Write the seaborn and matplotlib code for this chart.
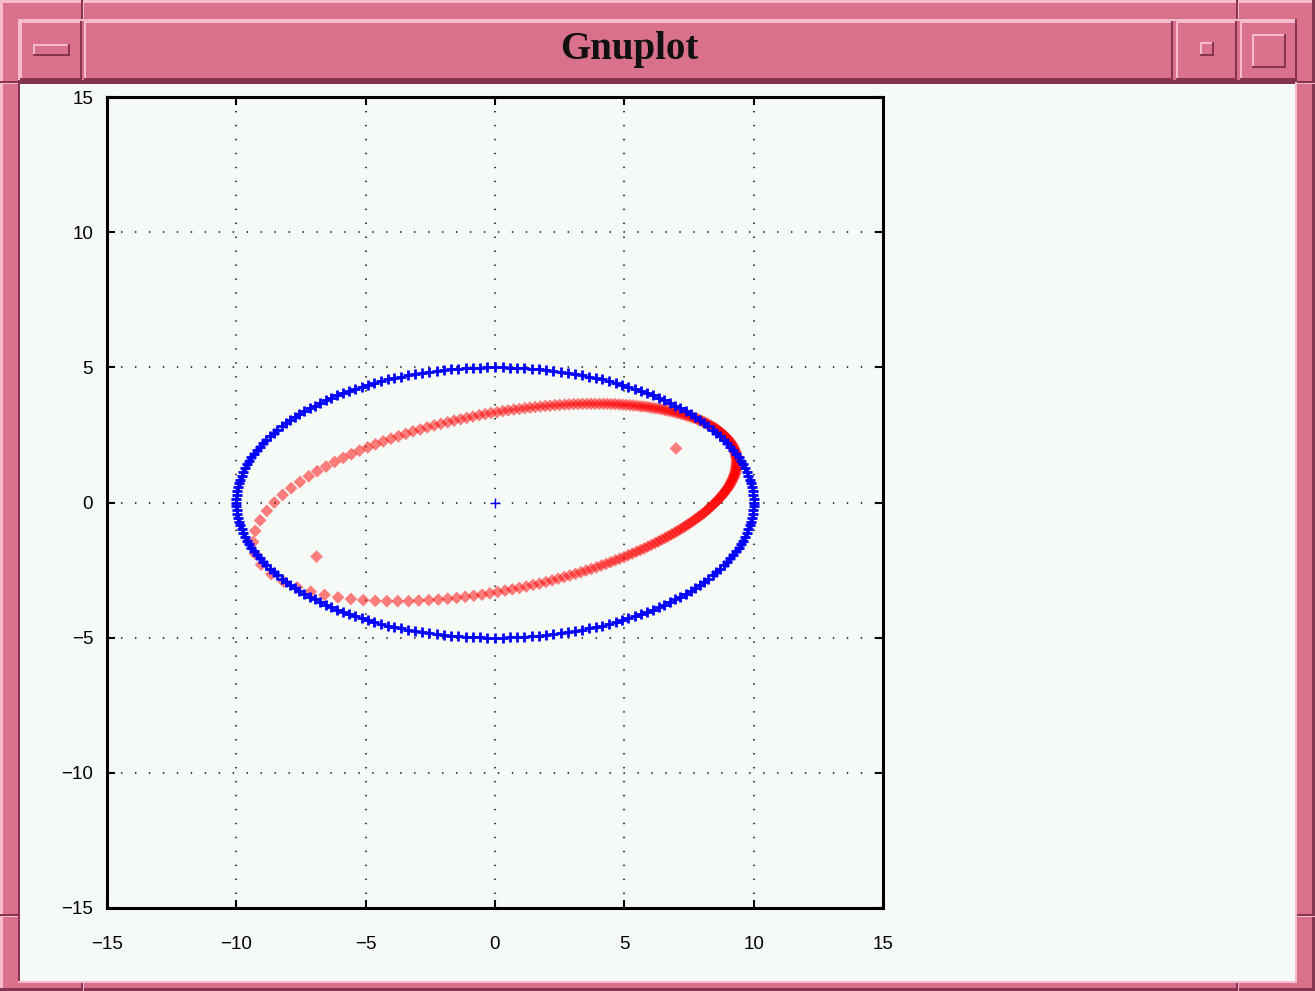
"""
Gnuplot-style window: a sampled ellipse (blue '+') and a tilted orbit (red diamonds).
"""

import matplotlib
matplotlib.use("Agg")
import matplotlib.pyplot as plt
import seaborn as sns
from matplotlib.patches import Rectangle

# Blue ellipse samples
blue_x = [
    10.0, 10.0, 9.98, 9.96, 9.93, 9.9, 9.85, 9.8, 9.74, 9.67, 9.59, 9.51, 9.42, 9.32,
    9.21, 9.1, 8.97, 8.84, 8.71, 8.56, 8.41, 8.25, 8.09, 7.92, 7.74, 7.56, 7.37, 7.17,
    6.97, 6.76, 6.55, 6.33, 6.11, 5.88, 5.64, 5.41, 5.16, 4.92, 4.67, 4.41, 4.15, 3.89,
    3.63, 3.36, 3.09, 2.82, 2.54, 2.26, 1.99, 1.71, 1.42, 1.14, 0.86, 0.57, 0.29, 0.0,
    -0.29, -0.57, -0.86, -1.14, -1.42, -1.71, -1.99, -2.26, -2.54, -2.82, -3.09, -3.36,
    -3.63, -3.89, -4.15, -4.41, -4.67, -4.92, -5.16, -5.41, -5.64, -5.88, -6.11, -6.33,
    -6.55, -6.76, -6.97, -7.17, -7.37, -7.56, -7.74, -7.92, -8.09, -8.25, -8.41, -8.56,
    -8.71, -8.84, -8.97, -9.1, -9.21, -9.32, -9.42, -9.51, -9.59, -9.67, -9.74, -9.8,
    -9.85, -9.9, -9.93, -9.96, -9.98, -10.0, -10.0,
    -10.0, -9.98, -9.96, -9.93, -9.9, -9.85, -9.8, -9.74, -9.67, -9.59, -9.51, -9.42,
    -9.32, -9.21, -9.1, -8.97, -8.84, -8.71, -8.56, -8.41, -8.25, -8.09, -7.92, -7.74,
    -7.56, -7.37, -7.17, -6.97, -6.76, -6.55, -6.33, -6.11, -5.88, -5.64, -5.41, -5.16,
    -4.92, -4.67, -4.41, -4.15, -3.89, -3.63, -3.36, -3.09, -2.82, -2.54, -2.26, -1.99,
    -1.71, -1.42, -1.14, -0.86, -0.57, -0.29, 0.0,
    0.29, 0.57, 0.86, 1.14, 1.42, 1.71, 1.99, 2.26, 2.54, 2.82, 3.09, 3.36, 3.63, 3.89,
    4.15, 4.41, 4.67, 4.92, 5.16, 5.41, 5.64, 5.88, 6.11, 6.33, 6.55, 6.76, 6.97, 7.17,
    7.37, 7.56, 7.74, 7.92, 8.09, 8.25, 8.41, 8.56, 8.71, 8.84, 8.97, 9.1, 9.21, 9.32,
    9.42, 9.51, 9.59, 9.67, 9.74, 9.8, 9.85, 9.9, 9.93, 9.96, 9.98, 10.0,
]
blue_y = [
    0.0, 0.14, 0.28, 0.43, 0.57, 0.71, 0.85, 0.99, 1.13, 1.27, 1.41, 1.54, 1.68, 1.81,
    1.94, 2.07, 2.2, 2.33, 2.46, 2.58, 2.7, 2.82, 2.94, 3.05, 3.16, 3.27, 3.38, 3.48,
    3.58, 3.68, 3.78, 3.87, 3.96, 4.04, 4.12, 4.2, 4.28, 4.35, 4.42, 4.48, 4.55, 4.6,
    4.66, 4.71, 4.75, 4.79, 4.83, 4.87, 4.9, 4.92, 4.95, 4.96, 4.98, 4.99, 5.0, 5.0,
    5.0, 4.99, 4.98, 4.96, 4.95, 4.92, 4.9, 4.87, 4.83, 4.79, 4.75, 4.71, 4.66, 4.6,
    4.55, 4.48, 4.42, 4.35, 4.28, 4.2, 4.12, 4.04, 3.96, 3.87, 3.78, 3.68, 3.58, 3.48,
    3.38, 3.27, 3.16, 3.05, 2.94, 2.82, 2.7, 2.58, 2.46, 2.33, 2.2, 2.07, 1.94, 1.81,
    1.68, 1.54, 1.41, 1.27, 1.13, 0.99, 0.85, 0.71, 0.57, 0.43, 0.28, 0.14, 0.0,
    -0.14, -0.28, -0.43, -0.57, -0.71, -0.85, -0.99, -1.13, -1.27, -1.41, -1.54, -1.68,
    -1.81, -1.94, -2.07, -2.2, -2.33, -2.46, -2.58, -2.7, -2.82, -2.94, -3.05, -3.16,
    -3.27, -3.38, -3.48, -3.58, -3.68, -3.78, -3.87, -3.96, -4.04, -4.12, -4.2, -4.28,
    -4.35, -4.42, -4.48, -4.55, -4.6, -4.66, -4.71, -4.75, -4.79, -4.83, -4.87, -4.9,
    -4.92, -4.95, -4.96, -4.98, -4.99, -5.0, -5.0,
    -5.0, -4.99, -4.98, -4.96, -4.95, -4.92, -4.9, -4.87, -4.83, -4.79, -4.75, -4.71,
    -4.66, -4.6, -4.55, -4.48, -4.42, -4.35, -4.28, -4.2, -4.12, -4.04, -3.96, -3.87,
    -3.78, -3.68, -3.58, -3.48, -3.38, -3.27, -3.16, -3.05, -2.94, -2.82, -2.7, -2.58,
    -2.46, -2.33, -2.2, -2.07, -1.94, -1.81, -1.68, -1.54, -1.41, -1.27, -1.13, -0.99,
    -0.85, -0.71, -0.57, -0.43, -0.28, -0.14,
]

# Red orbit samples (dense on the right, sparse on the left)
red_x = [
    9.32, 9.31, 9.30, 9.28, 9.26, 9.24, 9.22, 9.19, 9.17, 9.14,
    9.11, 9.07, 9.04, 9.00, 8.96, 8.92, 8.87, 8.83, 8.78, 8.73,
    8.68, 8.62, 8.57, 8.51, 8.45, 8.38, 8.32, 8.25, 8.18, 8.11,
    8.04, 7.96, 7.88, 7.80, 7.72, 7.64, 7.55, 7.46, 7.37, 7.28,
    7.18, 7.08, 6.98, 6.88, 6.78, 6.67, 6.56, 6.45, 6.34, 6.22,
    6.10, 5.98, 5.86, 5.73, 5.61, 5.48, 5.34, 5.21, 5.07, 4.93,
    4.79, 4.64, 4.49, 4.34, 4.19, 4.03, 3.87, 3.71, 3.55, 3.38,
    3.21, 3.04, 2.86, 2.69, 2.50, 2.32, 2.13, 1.94, 1.75, 1.55,
    1.35, 1.15, 0.94, 0.73, 0.51, 0.30, 0.08, -0.15, -0.38, -0.61,
    -0.85, -1.09, -1.33, -1.58, -1.83, -2.09, -2.35, -2.62, -2.89, -3.17,
    -3.45, -3.73, -4.02, -4.32, -4.62, -4.92, -5.24, -5.55, -5.87, -6.20,
    -6.53, -6.87, -7.20, -7.54, -7.88, -8.21, -8.53, -8.82, -9.08, -9.27,
    -9.35, -9.28, -9.04, -8.65, -8.17, -7.65, -7.12, -6.59, -6.07, -5.57,
    -5.09, -4.63, -4.18, -3.76, -3.34, -2.95, -2.56, -2.19, -1.83, -1.48,
    -1.15, -0.82, -0.50, -0.20, 0.10, 0.39, 0.67, 0.94, 1.21, 1.47,
    1.72, 1.97, 2.21, 2.44, 2.67, 2.89, 3.11, 3.32, 3.52, 3.72,
    3.92, 4.11, 4.29, 4.47, 4.65, 4.82, 4.99, 5.15, 5.31, 5.47,
    5.62, 5.77, 5.91, 6.05, 6.19, 6.32, 6.45, 6.58, 6.70, 6.82,
    6.94, 7.05, 7.16, 7.27, 7.37, 7.47, 7.57, 7.67, 7.76, 7.85,
    7.93, 8.02, 8.10, 8.17, 8.25, 8.32, 8.39, 8.46, 8.52, 8.59,
    8.64, 8.70, 8.76, 8.81, 8.86, 8.90, 8.95, 8.99, 9.03, 9.07,
    9.10, 9.13, 9.16, 9.19, 9.22, 9.24, 9.26, 9.28, 9.30, 9.31,
    9.32, 9.33, 9.34, 9.35, 9.35, 9.35, 9.35, 9.35, 9.34, 9.33,
]
red_y = [
    1.75, 1.80, 1.85, 1.90, 1.94, 1.99, 2.04, 2.08, 2.13, 2.17,
    2.22, 2.26, 2.30, 2.35, 2.39, 2.43, 2.47, 2.51, 2.55, 2.59,
    2.63, 2.67, 2.71, 2.75, 2.78, 2.82, 2.85, 2.89, 2.92, 2.96,
    2.99, 3.02, 3.06, 3.09, 3.12, 3.15, 3.18, 3.20, 3.23, 3.26,
    3.28, 3.31, 3.33, 3.36, 3.38, 3.40, 3.42, 3.45, 3.47, 3.48,
    3.50, 3.52, 3.54, 3.55, 3.56, 3.58, 3.59, 3.60, 3.61, 3.62,
    3.63, 3.64, 3.64, 3.65, 3.65, 3.65, 3.65, 3.65, 3.65, 3.65,
    3.64, 3.64, 3.63, 3.62, 3.61, 3.60, 3.58, 3.57, 3.55, 3.53,
    3.51, 3.49, 3.46, 3.44, 3.41, 3.38, 3.34, 3.31, 3.27, 3.23,
    3.18, 3.13, 3.08, 3.03, 2.97, 2.91, 2.85, 2.78, 2.70, 2.63,
    2.54, 2.45, 2.36, 2.26, 2.15, 2.04, 1.92, 1.79, 1.65, 1.50,
    1.33, 1.16, 0.97, 0.76, 0.53, 0.28, 0.00, -0.31, -0.66, -1.05,
    -1.46, -1.89, -2.30, -2.65, -2.93, -3.14, -3.30, -3.42, -3.51, -3.57,
    -3.61, -3.64, -3.65, -3.65, -3.65, -3.63, -3.61, -3.59, -3.56, -3.53,
    -3.49, -3.45, -3.41, -3.36, -3.31, -3.26, -3.21, -3.16, -3.11, -3.05,
    -3.00, -2.94, -2.88, -2.82, -2.76, -2.70, -2.64, -2.58, -2.52, -2.46,
    -2.40, -2.33, -2.27, -2.21, -2.14, -2.08, -2.02, -1.95, -1.89, -1.82,
    -1.76, -1.70, -1.63, -1.57, -1.50, -1.44, -1.37, -1.31, -1.25, -1.18,
    -1.12, -1.06, -0.99, -0.93, -0.87, -0.80, -0.74, -0.68, -0.61, -0.55,
    -0.49, -0.43, -0.37, -0.31, -0.24, -0.18, -0.12, -0.06, 0.00, 0.06,
    0.12, 0.18, 0.24, 0.30, 0.35, 0.41, 0.47, 0.53, 0.58, 0.64,
    0.70, 0.75, 0.81, 0.87, 0.92, 0.98, 1.03, 1.08, 1.14, 1.19,
    1.25, 1.30, 1.35, 1.40, 1.45, 1.50, 1.55, 1.61, 1.66, 1.70,
]

# Single extra points
red_extra_x = [-6.9, 7.0]
red_extra_y = [-2.0, 2.0]
center_x = [0.0]
center_y = [0.0]

ticks = [-15, -10, -5, 0, 5, 10, 15]
tick_labels = ['\u221215', '\u221210', '\u22125', '0', '5', '10', '15']
window_title = 'Gnuplot'

PINK = '#d9708c'
LIGHT = '#f6bccd'
DARK = '#853552'
BG = '#f6faf7'


def main():
    sns.set_theme(style="ticks")
    plt.rcParams['font.family'] = ['Liberation Sans', 'DejaVu Sans']

    fig = plt.figure(figsize=(13.15, 9.91), dpi=100)

    # window decoration drawn in pixel coordinates
    bg = fig.add_axes([0, 0, 1, 1])
    bg.set_xlim(0, 1315)
    bg.set_ylim(991, 0)
    bg.axis('off')

    def bevel(x0, y0, x1, y1, w=2, fill=PINK, sunken=False):
        hi, lo = (DARK, LIGHT) if sunken else (LIGHT, DARK)
        bg.add_patch(Rectangle((x0, y0), x1 - x0, y1 - y0, fc=fill, ec='none'))
        bg.add_patch(Rectangle((x0, y0), x1 - x0, w, fc=hi, ec='none'))
        bg.add_patch(Rectangle((x0, y0), w, y1 - y0, fc=hi, ec='none'))
        bg.add_patch(Rectangle((x0, y1 - w), x1 - x0, w, fc=lo, ec='none'))
        bg.add_patch(Rectangle((x1 - w, y0), w, y1 - y0, fc=lo, ec='none'))

    bevel(0, 0, 1315, 991, w=3)
    for xs in (81, 1236):
        bg.add_patch(Rectangle((xs, 0), 2, 19, fc=DARK, ec='none'))
        bg.add_patch(Rectangle((xs + 2, 0), 1, 19, fc=LIGHT, ec='none'))
        bg.add_patch(Rectangle((xs, 983), 2, 8, fc=DARK, ec='none'))
        bg.add_patch(Rectangle((xs + 2, 983), 1, 8, fc=LIGHT, ec='none'))
    for ys in (81, 914):
        for xs in (0, 1297):
            bg.add_patch(Rectangle((xs, ys), 18, 2, fc=DARK, ec='none'))
            bg.add_patch(Rectangle((xs, ys + 2), 18, 1, fc=LIGHT, ec='none'))
    bevel(18, 19, 1297, 82, w=2)
    bevel(20, 21, 82, 80)
    bevel(84, 21, 1173, 80)
    bevel(1176, 21, 1237, 80)
    bevel(1240, 21, 1297, 80)
    bevel(33, 44, 70, 56)
    bevel(1200, 42, 1214, 56)
    bevel(1252, 34, 1286, 68)
    bevel(18, 82, 1297, 983, w=2, fill=BG, sunken=True)
    bg.text(629, 50, window_title, ha='center', va='center', fontsize=28,
            fontweight='bold', color='#111111',
            family=['Liberation Serif', 'DejaVu Serif'])

    # plot area
    ax = fig.add_axes([107 / 1315, (991 - 908) / 991, 776 / 1315, 811 / 991])
    ax.set_facecolor(BG)

    sns.scatterplot(x=red_x, y=red_y, ax=ax, marker='D', color='red', s=42,
                    alpha=0.5, edgecolor='none', linewidth=0, legend=False)
    sns.scatterplot(x=red_extra_x, y=red_extra_y, ax=ax, marker='D', color='red',
                    s=42, alpha=0.5, edgecolor='none', linewidth=0, legend=False)
    sns.scatterplot(x=blue_x, y=blue_y, ax=ax, marker='+', color='blue', s=58,
                    linewidth=2.0, legend=False)
    sns.scatterplot(x=center_x, y=center_y, ax=ax, marker='+', color='blue', s=45,
                    linewidth=1, legend=False)

    ax.set_xlim(-15, 15)
    ax.set_ylim(-15, 15)
    ax.set_xticks(ticks)
    ax.set_yticks(ticks)
    ax.set_xticklabels(tick_labels)
    ax.set_yticklabels(tick_labels)
    ax.set_xlabel('')
    ax.set_ylabel('')
    ax.grid(True, color='#444444', linestyle=(0, (0.7, 6)), linewidth=1.5)
    ax.tick_params(direction='in', length=6, width=1.5, top=True, right=True,
                   labelsize=13.5, colors='black')
    ax.tick_params(axis='x', pad=20)
    ax.tick_params(axis='y', pad=10)
    for sp in ax.spines.values():
        sp.set_linewidth(2.2)
        sp.set_color('black')

    fig.savefig('out.png', dpi=100, facecolor=PINK)
    plt.close(fig)


if __name__ == '__main__':
    main()
